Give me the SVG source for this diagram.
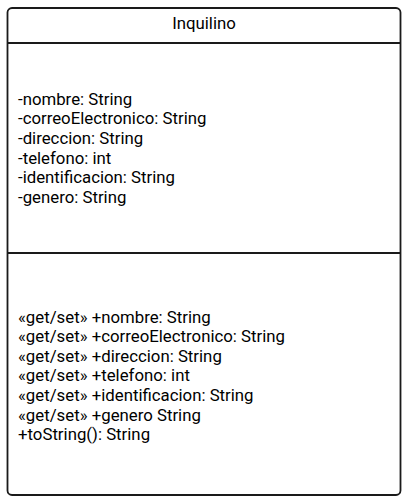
<svg xmlns="http://www.w3.org/2000/svg" width="408" height="502" viewBox="0 0 408 502">
<style>
.box{fill:#ffffff;stroke:#1a1a1a;stroke-width:1.8}
.sep{stroke:#1a1a1a;stroke-width:1.8;fill:none}
text{font-family:Roboto,"Liberation Sans",sans-serif;font-size:16.8px;fill:#000000}
.title{text-anchor:middle}
</style>
<rect width="408" height="502" fill="#ffffff"/>
<g id="Inquilino">
<rect class="box" x="7.5" y="8" width="393" height="487" rx="4.5" ry="4.5"/>
<line class="sep" x1="7.5" y1="43" x2="400.5" y2="43"/>
<line class="sep" x1="7.5" y1="253" x2="400.5" y2="253"/>
<text class="title" x="204" y="28.5">Inquilino</text>
<text x="18" y="104.7">-nombre: String</text>
<text x="18" y="124.3">-correoElectronico: String</text>
<text x="18" y="143.9">-direccion: String</text>
<text x="18" y="163.5">-telefono: int</text>
<text x="18" y="183.1">-identificacion: String</text>
<text x="18" y="202.7">-genero: String</text>
<text x="18" y="322.6">«get/set» +nombre: String</text>
<text x="18" y="342.2">«get/set» +correoElectronico: String</text>
<text x="18" y="361.8">«get/set» +direccion: String</text>
<text x="18" y="381.4">«get/set» +telefono: int</text>
<text x="18" y="401">«get/set» +identificacion: String</text>
<text x="18" y="420.6">«get/set» +genero String</text>
<text x="18" y="440.2">+toString(): String</text>
</g>
<g id="connectors"></g>
</svg>
